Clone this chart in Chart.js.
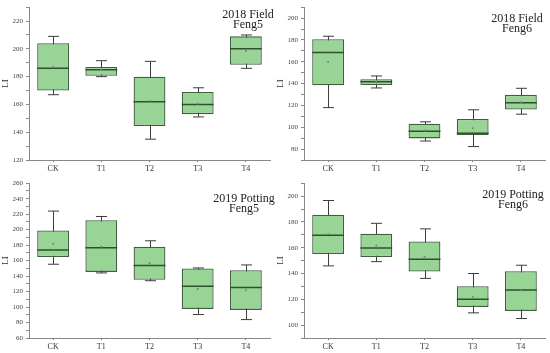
<!DOCTYPE html>
<html>
<head>
<meta charset="utf-8">
<script src="https://cdn.jsdelivr.net/npm/chart.js@4"></script>
<style>
  html, body { margin: 0; padding: 0; background: #fff; }
  #wrap { position: relative; width: 550px; height: 353px; }
  canvas { position: absolute; }
</style>
</head>
<body>
<div id="wrap">
  <canvas id="c1" width="275" height="176" style="left:0;top:0"></canvas>
  <canvas id="c2" width="275" height="176" style="left:275px;top:0"></canvas>
  <canvas id="c3" width="275" height="177" style="left:0;top:176px"></canvas>
  <canvas id="c4" width="275" height="177" style="left:275px;top:176px"></canvas>
</div>
<script>
const categories = ['CK', 'T1', 'T2', 'T3', 'T4'];

// 2018 Field, Feng5
const field18f5Min  = [167, 180, 135, 151, 186];
const field18f5Q1   = [170, 180.6, 144.4, 153, 188.6];
const field18f5Med  = [186, 185, 162, 160, 200];
const field18f5Q3   = [204, 187, 180, 169, 209];
const field18f5Max  = [209, 191.5, 191, 172, 210];
const field18f5Mean = [187, 185, 162.5, 160.5, 198.5];

// 2018 Field, Feng6
const field18f6Min  = [118, 136, 87.4, 82.3, 112];
const field18f6Q1   = [138.4, 138.7, 89.8, 92.8, 116.2];
const field18f6Med  = [168.5, 141.7, 96.4, 94.6, 122.5];
const field18f6Q3   = [180.7, 144.1, 103.3, 107.5, 129.7];
const field18f6Max  = [183.4, 147, 105, 116, 135.7];
const field18f6Mean = [159.7, 142, 97, 99, 123];

// 2019 Potting, Feng5
const pot19f5Min  = [155.3, 144.1, 134, 90.3, 83.8];
const pot19f5Q1   = [164.6, 145.4, 135.1, 97.6, 96.3];
const pot19f5Med  = [173.6, 176.7, 153.6, 127, 125.4];
const pot19f5Q3   = [198.8, 212.1, 177.9, 149.7, 147.6];
const pot19f5Max  = [224, 217, 185.6, 150.5, 154.4];
const pot19f5Mean = [181.8, 178, 156.5, 123.2, 122];

// 2019 Potting, Feng6
const pot19f6Min  = [145.9, 149.2, 136.2, 109.5, 105.1];
const pot19f6Q1   = [155.1, 152.8, 141.5, 114.1, 111];
const pot19f6Med  = [169.7, 159.7, 151, 120, 127.2];
const pot19f6Q3   = [185.6, 170.8, 164.8, 130.2, 141.8];
const pot19f6Max  = [196.6, 178.9, 174.6, 140, 146.4];
const pot19f6Mean = [170.5, 161.8, 153, 122, 127];

const panels = [
    { id: 'c1', min: 120, max: 230, padTop: 4, bottom: 160, title: ['2018 Field', 'Feng5'], tx: 248, ty: 15,
      box: { min: field18f5Min, q1: field18f5Q1, med: field18f5Med, q3: field18f5Q3, max: field18f5Max, mean: field18f5Mean } },
    { id: 'c2', min: 70, max: 210, padTop: 4, bottom: 160, title: ['2018 Field', 'Feng6'], tx: 242, ty: 19,
      box: { min: field18f6Min, q1: field18f6Q1, med: field18f6Med, q3: field18f6Q3, max: field18f6Max, mean: field18f6Mean } },
    { id: 'c3', min: 60, max: 260, padTop: 6, bottom: 162, title: ['2019 Potting', 'Feng5'], tx: 244, ty: 23,
      box: { min: pot19f5Min, q1: pot19f5Q1, med: pot19f5Med, q3: pot19f5Q3, max: pot19f5Max, mean: pot19f5Mean } },
    { id: 'c4', min: 90, max: 210, padTop: 6, bottom: 162, title: ['2019 Potting', 'Feng6'], tx: 238, ty: 19,
      box: { min: pot19f6Min, q1: pot19f6Q1, med: pot19f6Med, q3: pot19f6Q3, max: pot19f6Max, mean: pot19f6Mean } }
];

const boxPlot = {
    id: 'boxPlot',
    beforeDatasetsDraw(chart, args, opts) {
        const b = opts.box;
        const xs = chart.scales.x, ys = chart.scales.y;
        const ctx = chart.ctx;
        ctx.save();
        ctx.strokeStyle = '#3c3c3c';
        ctx.lineWidth = 1;
        categories.forEach((c, i) => {
            const x = Math.round(xs.getPixelForValue(i)) + 0.5;
            const yLo = ys.getPixelForValue(b.min[i]);
            const yHi = ys.getPixelForValue(b.max[i]);
            ctx.beginPath();
            ctx.moveTo(x, yLo); ctx.lineTo(x, yHi);
            ctx.moveTo(x - 5.5, yLo); ctx.lineTo(x + 5.5, yLo);
            ctx.moveTo(x - 5.5, yHi); ctx.lineTo(x + 5.5, yHi);
            ctx.stroke();
        });
        ctx.restore();
    },
    afterDatasetsDraw(chart, args, opts) {
        const b = opts.box;
        const xs = chart.scales.x, ys = chart.scales.y;
        const ctx = chart.ctx;
        const meta = chart.getDatasetMeta(0);
        ctx.save();
        categories.forEach((c, i) => {
            const x = xs.getPixelForValue(i);
            const w = meta.data[i].width;
            const ym = ys.getPixelForValue(b.med[i]);
            ctx.strokeStyle = '#2f4f2f';
            ctx.lineWidth = 1.5;
            ctx.beginPath();
            ctx.moveTo(x - w / 2, ym); ctx.lineTo(x + w / 2, ym);
            ctx.stroke();
            ctx.fillStyle = '#6a8a6a';
            ctx.beginPath();
            ctx.arc(x, ys.getPixelForValue(b.mean[i]), 1, 0, Math.PI * 2);
            ctx.fill();
        });
        // panel label
        ctx.fillStyle = '#222';
        ctx.font = '12px "Liberation Serif", serif';
        ctx.textAlign = 'center';
        ctx.textBaseline = 'middle';
        ctx.fillText(opts.title[0], opts.tx, opts.ty);
        ctx.fillText(opts.title[1], opts.tx, opts.ty + 10);
        ctx.restore();
    }
};

panels.forEach(p => {
    const canvas = document.getElementById(p.id);
    const h = canvas.height;
    new Chart(canvas.getContext('2d'), {
        type: 'bar',
        data: {
            labels: categories,
            datasets: [{
                data: categories.map((c, i) => [p.box.q1[i], p.box.q3[i]]),
                backgroundColor: 'rgb(152, 212, 150)',
                borderColor: '#3f5f3f',
                borderWidth: 1.3,
                borderSkipped: false,
                categoryPercentage: 1,
                barPercentage: 0.66
            }]
        },
        options: {
            responsive: false,
            animation: false,
            layout: { padding: { left: 0, right: 5, top: p.padTop, bottom: 0 } },
            scales: {
                x: {
                    afterFit(scale) { scale.height = h - p.bottom; },
                    grid: { display: true, drawOnChartArea: false, drawTicks: true, tickLength: 2, color: '#777', offset: false },
                    border: { display: true, color: '#888', width: 1 },
                    ticks: { color: '#333', font: { family: '"Liberation Serif", serif', size: 8 }, padding: 2 }
                },
                y: {
                    min: p.min,
                    max: p.max,
                    afterFit(scale) { scale.width = 29; },
                    grid: { display: true, drawOnChartArea: false, drawTicks: true, tickLength: 3, color: '#888' },
                    border: { display: true, color: '#888', width: 1 },
                    ticks: {
                        stepSize: 10,
                        autoSkip: false,
                        color: '#444',
                        font: { family: '"Liberation Serif", serif', size: 7 },
                        padding: 3,
                        callback: v => (v % 20 === 0 ? v : '')
                    },
                    title: { display: true, text: 'LI', color: '#333', font: { family: '"Liberation Serif", serif', size: 9 }, padding: 0 }
                }
            },
            plugins: {
                legend: { display: false },
                tooltip: { enabled: false },
                boxPlot: { box: p.box, title: p.title, tx: p.tx, ty: p.ty }
            }
        },
        plugins: [boxPlot]
    });
});
</script>
</body>
</html>
